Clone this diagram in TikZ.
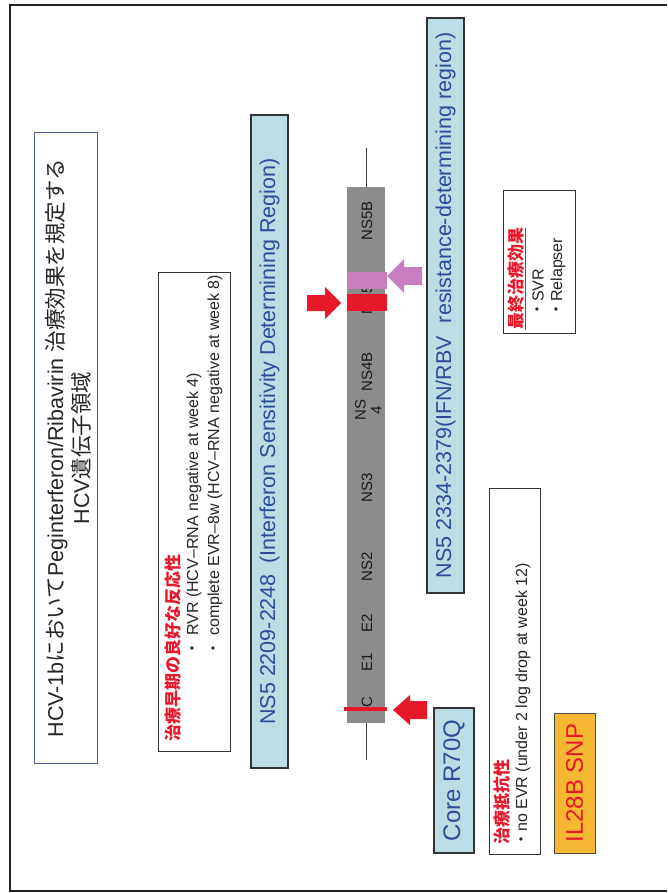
\documentclass[tikz,border=0pt]{standalone}
\usepackage{fontspec}
\setmainfont{Liberation Sans}
\newfontfamily\jp{Noto Sans CJK JP}
\definecolor{lblue}{HTML}{BCDDE3}
\definecolor{tblue}{HTML}{2A4D9C}
\definecolor{tborder}{HTML}{4B5B9B}
\definecolor{hred}{HTML}{E8182B}
\definecolor{hpurple}{HTML}{C77EC0}
\definecolor{horange}{HTML}{F5B833}
\definecolor{bargray}{HTML}{8C8C8C}
\definecolor{framec}{HTML}{222222}
\begin{document}
\begin{tikzpicture}[x=1pt,y=-1pt,
  vbox/.style={rotate=90, inner sep=0pt, outer sep=0pt},
  framebox/.style={vbox, draw=black!80, line width=1pt},
  bluebox/.style={vbox, draw=black!80, line width=1.1pt, fill=lblue, text=tblue, font=\fontsize{21.5}{24}\selectfont},
  vtext/.style={rotate=90, inner sep=0pt, anchor=west},
  redtitle/.style={vtext, text=hred, font=\jp\bfseries\fontsize{17}{20}\selectfont},
  bullettext/.style={vtext, text=black!85, font=\fontsize{16}{18}\selectfont},
  barlabel/.style={rotate=90, inner sep=0pt, text=black!90, font=\fontsize{15}{16}\selectfont},
  redfill/.style={fill=hred, draw=none},
  purplefill/.style={fill=hpurple, draw=none}
]
\useasboundingbox (0,0) rectangle (667,893);
\fill[white] (0,0) rectangle (667,893);

% outer frame
\draw[framec, line width=2.5pt] (667,5) -- (10,5) -- (10,891) -- (667,891);

% title box
\node[vbox, draw=tborder, line width=1pt, minimum width=630pt, minimum height=63pt] (title) at (65.5,448) {};
\node[rotate=90, inner sep=0pt, align=center, text=black!85, font=\fontsize{21.5}{26}\selectfont] (titletext) at (68,448)
  {HCV-1b{\jp において}Peginterferon/Ribavirin {\jp 治療効果を規定する}\\HCV{\jp 遺伝子領域}};

% early response box
\node[framebox, minimum width=479pt, minimum height=72pt] (early) at (194,511.5) {};
\node[redtitle] (earlyt) at (173,742) {治療早期の良好な反応性};
\node[bullettext] (earlyb1) at (194,657) {{\jp ・}\hspace{5pt}RVR (HCV–RNA negative at week 4)};
\node[bullettext] (earlyb2) at (215,657) {{\jp ・}\hspace{5pt}complete EVR–8w (HCV–RNA negative at week 8)};

% ISDR box
\node[bluebox, minimum width=653pt, minimum height=37pt] (isdr) at (269.5,441.5)
  {NS5 2209-2248\hspace{0.5em}(Interferon Sensitivity Determining Region)};

% gene bar
\coordinate (gtop) at (366,148);
\coordinate (gbot) at (366,760);
\draw[black!75, line width=0.9pt] (gtop) -- (gbot);
\node[vbox, fill=bargray, minimum width=536pt, minimum height=38pt] (bar) at (366,455) {};
\node[barlabel] (lc) at (367,702) {C};
\node[barlabel] (le1) at (367,662) {E1};
\node[barlabel] (le2) at (367,623) {E2};
\node[barlabel] (lns2) at (367,567) {NS2};
\node[barlabel] (lns3) at (367,488) {NS3};
\node[barlabel, align=center, font=\fontsize{15}{16}\selectfont] (lns4) at (368.5,410) {NS\\4};
\node[barlabel] (lns4b) at (367,372) {NS4B};
\node[barlabel] (lns5) at (367,300) {NS5};
\node[barlabel] (lns5b) at (367,221) {NS5B};

% bands on the bar
\fill[purplefill] (347,272) rectangle (387,289);
\fill[redfill] (347,294) rectangle (387,311);
\draw[hred, line width=3.5pt] (344,709) -- (387,709);

% block arrows
\fill[redfill] (393,710) -- (410,695) -- (410,701) -- (427,701) -- (427,719) -- (410,719) -- (410,725) -- cycle;
\fill[redfill] (341,303) -- (325,287) -- (325,295) -- (307,295) -- (307,311) -- (325,311) -- (325,319) -- cycle;
\fill[purplefill] (387,276) -- (404,259) -- (404,267) -- (422,267) -- (422,285) -- (404,285) -- (404,293) -- cycle;

% IFN/RBV box
\node[bluebox, minimum width=575pt, minimum height=37pt] (ifn) at (445.5,305.5)
  {NS5 2334-2379(IFN/RBV\hspace{0.6em}resistance-determining region)};

% final effect box
\node[framebox, minimum width=142pt, minimum height=72pt] (final) at (539,262) {};
\node[redtitle] (finalt) at (517,330) {\underline{最終治療効果}};
\node[bullettext] (finalb1) at (538,318) {{\jp ・}SVR};
\node[bullettext] (finalb2) at (558,318) {{\jp ・}Relapser};

% Core R70Q
\node[bluebox, minimum width=145pt, minimum height=40pt, font=\fontsize{24}{26}\selectfont] (core) at (454,780.5) {Core R70Q};

% resistance box
\node[framebox, minimum width=366pt, minimum height=51pt] (resist) at (514.5,671) {};
\node[redtitle] (resistt) at (502,845) {治療抵抗性};
\node[bullettext] (resistb) at (523,848) {{\jp ・}no EVR (under 2 log drop at week 12)};

% IL28B SNP
\node[vbox, draw=black!70, line width=1pt, fill=horange, text=hred, minimum width=140pt, minimum height=41pt, font=\fontsize{24}{26}\selectfont] (il28b) at (574.5,783) {IL28B SNP};
\end{tikzpicture}
\end{document}
